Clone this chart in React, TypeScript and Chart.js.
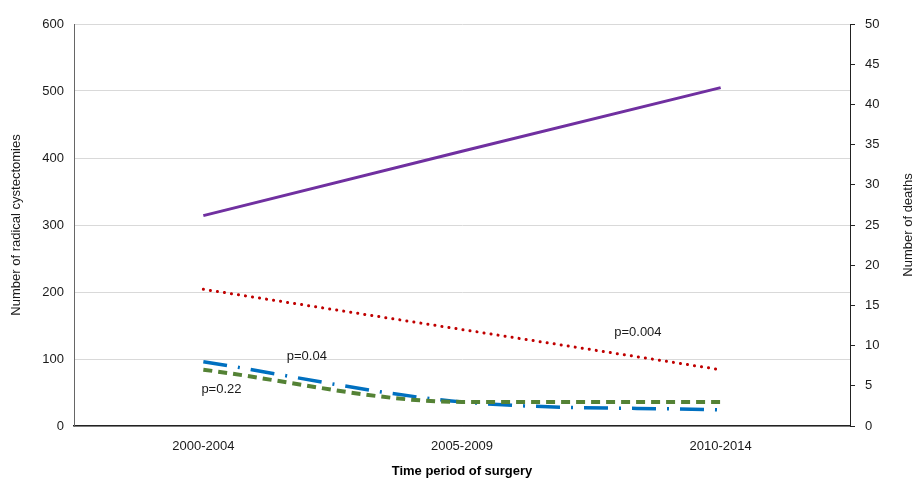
import React, { useEffect, useRef } from "react";
import { Chart, registerables } from "chart.js";

Chart.register(...registerables);

const categories = ["2000-2004", "2005-2009", "2010-2014"];
const cystectomies = [314, 410, 505];
const deathsRed = [17, 12, 7];
const deathsBlue = [8, 3, 2];
const deathsGreen = [7, 3, 3];
const leftTicks = [0, 100, 200, 300, 400, 500, 600];
const rightTicks = [0, 5, 10, 15, 20, 25, 30, 35, 40, 45, 50];
const annotationTexts = ["p=0.04", "p=0.22", "p=0.004"];
const annotationIndex = [0.4, 0.07, 1.68];
const annotationDeaths = [8.6, 4.6, 11.7];

const FONT = "'Liberation Sans', Arial, Helvetica, sans-serif";

const annotationPlugin = {
  id: "pAnnotations",
  afterDatasetsDraw(chart: any) {
    const { ctx, scales } = chart;
    ctx.save();
    ctx.font = `13px ${FONT}`;
    ctx.fillStyle = "#1a1a1a";
    ctx.textAlign = "center";
    ctx.textBaseline = "middle";
    annotationTexts.forEach((t, i) => {
      const x = scales.x.getPixelForValue(annotationIndex[i]);
      const y = scales.y1.getPixelForValue(annotationDeaths[i]);
      ctx.fillText(t, x, y);
    });
    ctx.restore();
  },
  afterDraw(chart: any) {
    const { ctx, scales } = chart;
    const s = scales.y1;
    ctx.save();
    ctx.font = `13px ${FONT}`;
    ctx.fillStyle = "#1a1a1a";
    ctx.textAlign = "center";
    ctx.textBaseline = "middle";
    ctx.translate(908, (s.top + s.bottom) / 2);
    ctx.rotate(-Math.PI / 2);
    ctx.fillText("Number of deaths", 0, 0);
    ctx.restore();
  },
};

export default function App() {
  const ref = useRef<HTMLCanvasElement>(null);
  useEffect(() => {
    document.body.style.margin = "0";
    const chart = new Chart(ref.current!, {
      type: "line",
      data: {
        labels: categories,
        datasets: [
          {
            label: "Radical cystectomies",
            data: cystectomies,
            yAxisID: "y",
            borderColor: "#7030A0",
            borderWidth: 3,
            pointRadius: 0,
            tension: 0,
          },
          {
            label: "Deaths red",
            data: deathsRed,
            yAxisID: "y1",
            borderColor: "#C00000",
            borderWidth: 3,
            borderDash: [0.1, 7],
            borderCapStyle: "round",
            pointRadius: 0,
            tension: 0,
          },
          {
            label: "Deaths green",
            data: deathsGreen,
            yAxisID: "y1",
            borderColor: "#548235",
            borderWidth: 4,
            borderDash: [9, 6],
            pointRadius: 0,
            cubicInterpolationMode: "monotone",
          },
          {
            label: "Deaths blue",
            data: deathsBlue,
            yAxisID: "y1",
            borderColor: "#0070C0",
            borderWidth: 3.5,
            borderDash: [24, 11, 2, 11],
            pointRadius: 0,
            cubicInterpolationMode: "monotone",
          },
        ],
      },
      options: {
        animation: false,
        responsive: false,
        maintainAspectRatio: false,
        layout: { padding: { top: 24, left: 0, right: 0, bottom: 0 } },
        plugins: { legend: { display: false }, tooltip: { enabled: false } },
        scales: {
          x: {
            type: "category",
            offset: true,
            grid: { display: false, drawTicks: false },
            border: { display: true, color: "#222", width: 1.5 },
            ticks: { color: "#1a1a1a", font: { family: FONT, size: 13 }, padding: 13, maxRotation: 0 },
            title: {
              display: true,
              text: "Time period of surgery",
              color: "#000",
              font: { family: FONT, size: 13, weight: "bold" },
              padding: { top: 0, bottom: 1 },
            },
            afterFit: (s: any) => { s.height = 54; },
          },
          y: {
            position: "left",
            min: 0,
            max: 600,
            afterBuildTicks: (s: any) => { s.ticks = leftTicks.map((v) => ({ value: v })); },
            grid: { color: "#d9d9d9", drawTicks: false },
            border: { display: true, color: "#666", width: 1 },
            ticks: { color: "#1a1a1a", font: { family: FONT, size: 13 }, padding: 10 },
            title: {
              display: true,
              text: "Number of radical cystectomies",
              color: "#1a1a1a",
              font: { family: FONT, size: 13 },
              padding: { top: 9, bottom: 0 },
            },
            afterFit: (s: any) => { s.width = 74; },
          },
          y1: {
            position: "right",
            min: 0,
            max: 50,
            afterBuildTicks: (s: any) => { s.ticks = rightTicks.map((v) => ({ value: v })); },
            grid: { drawOnChartArea: false, drawTicks: true, tickLength: 5, color: "#222" },
            border: { display: true, color: "#222", width: 1 },
            ticks: { color: "#1a1a1a", font: { family: FONT, size: 13 }, padding: 10 },
            afterFit: (s: any) => { s.width = 65; },
          },
        },
      },
      plugins: [annotationPlugin],
    } as any);
    return () => chart.destroy();
  }, []);
  return (
    <div style={{ width: 915, height: 480 }}>
      <canvas ref={ref} width={915} height={480} style={{ display: "block" }} />
    </div>
  );
}
